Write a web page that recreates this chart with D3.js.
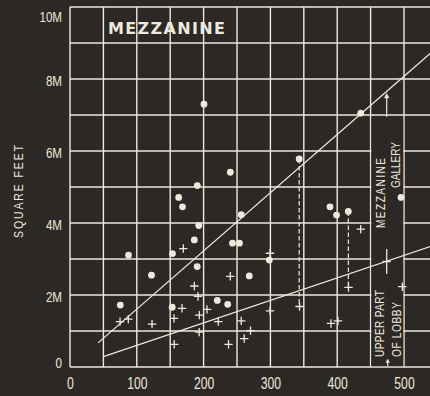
<!DOCTYPE html>
<html>
<head>
<meta charset="utf-8">
<script src="https://cdn.jsdelivr.net/npm/d3@7"></script>
<style>
  html, body { margin: 0; padding: 0; background: #2c2825; }
  svg { display: block; }
</style>
</head>
<body>
<svg id="chart" width="430" height="396"></svg>
<script>
// Mezzanine floor area (millions of sq ft) plotted against building size index.
const xTicks = [0, 100, 200, 300, 400, 500];
const yTicks = [0, 2, 4, 6, 8, 10];
const yTickLabels = ["0", "2M", "4M", "6M", "8M", "10M"];

// Mezzanine gallery buildings (dots): [x, millions of sq ft]
const galleryX = [200.6, 240.0, 190.6, 162.7, 168.4, 256.4, 192.8, 186.1, 87.6, 153.4,
                  243.3, 253.7, 298.4, 190.4, 122.0, 268.4, 75.3, 153.0, 220.5, 236.1,
                  343.1, 389.2, 399.0, 416.6, 495.5, 435.2];
const galleryY = [7.30, 5.41, 5.04, 4.71, 4.45, 4.23, 3.93, 3.53, 3.11, 3.15,
                  3.44, 3.44, 2.97, 2.79, 2.55, 2.53, 1.72, 1.66, 1.85, 1.74,
                  5.78, 4.45, 4.22, 4.32, 4.71, 7.05];

// Upper part of lobby (crosses)
const lobbyX = [74.9, 87.3, 122.8, 155.7, 156.0, 167.7, 169.6, 186.1, 191.6, 193.6,
                205.1, 193.4, 222.0, 256.3, 270.2, 260.8, 237.3, 240.0, 299.4, 299.4,
                343.6, 390.7, 401.2, 435.2, 416.9, 497.5];
const lobbyY = [1.26, 1.33, 1.19, 1.35, 0.63, 1.63, 3.29, 2.25, 1.96, 1.44,
                1.60, 0.97, 1.26, 1.28, 1.01, 0.79, 0.63, 2.52, 3.16, 1.56,
                1.68, 1.21, 1.28, 3.83, 2.21, 2.23];

// Same building, both measures: [x, gallery value, lobby value]
const pairedX = [343.1, 416.7];
const pairedTop = [5.78, 4.32];
const pairedBottom = [1.68, 2.21];

// Trend lines: [x, y] end points
const galleryTrend = [[42, 0.67], [540, 8.72]];
const lobbyTrend = [[50, 0.29], [540, 3.35]];

// Key marks inside the legend column
const keyX = 474.1;
const keyGalleryFrom = 6.95, keyGalleryTo = 7.60;
const keyLobbyY = 2.93;

const W = 430, H = 396;
const ink = "#eee9dc", bg = "#2c2825";
const svg = d3.select("#chart");

const x = d3.scaleLinear().domain([0, 500]).range([70, 404]);
const y = d3.scaleLinear().domain([0, 10]).range([367, 7]);
const xEdge = x.invert(W);

svg.append("rect").attr("width", W).attr("height", H).attr("fill", bg);

// Grid
const vGrid = svg.append("g").attr("stroke", ink).attr("stroke-width", 1.4);
vGrid.selectAll("line").data(d3.range(0, xEdge, 50)).join("line")
  .attr("x1", d => x(d)).attr("x2", d => x(d))
  .attr("y1", y(10)).attr("y2", y(0));
const hGrid = svg.append("g").attr("stroke", ink).attr("stroke-width", 1.4);
hGrid.selectAll("line").data(d3.range(0, 11, 1)).join("line")
  .attr("x1", x(0)).attr("x2", W)
  .attr("y1", d => y(d)).attr("y2", d => y(d));

// Legend column cut out of the grid between 450 and 500
svg.append("rect")
  .attr("x", x(450) + 0.8).attr("width", x(500) - x(450) - 1.6)
  .attr("y", y(6.93)).attr("height", y(0) - y(6.93) - 0.9)
  .attr("fill", bg);

// Trend lines
const line = d3.line().x(d => x(d[0])).y(d => y(d[1]));
svg.append("g").attr("fill", "none").attr("stroke", ink).attr("stroke-width", 1.3)
  .selectAll("path").data([galleryTrend, lobbyTrend]).join("path")
  .attr("d", line);

// Dashed links between paired values
svg.append("g").attr("stroke", ink).attr("stroke-width", 1.2).attr("stroke-dasharray", "4.5,2.5")
  .selectAll("line").data(pairedX).join("line")
  .attr("x1", d => x(d)).attr("x2", d => x(d))
  .attr("y1", (d, i) => y(pairedTop[i])).attr("y2", (d, i) => y(pairedBottom[i]));

// Crosses
const plus = "M-4.2,0H4.2M0,-4.2V4.2";
svg.append("g").attr("stroke", ink).attr("stroke-width", 1.3).attr("fill", "none")
  .selectAll("path").data(lobbyX).join("path")
  .attr("transform", (d, i) => `translate(${x(d)},${y(lobbyY[i])})`)
  .attr("d", plus);

// Dots
svg.append("g").attr("fill", ink)
  .selectAll("circle").data(galleryX).join("circle")
  .attr("cx", d => x(d)).attr("cy", (d, i) => y(galleryY[i])).attr("r", 3.4);

// Key marks: arrow up to the gallery trend, tall cross on the lobby trend, small arrow at the foot
const key = svg.append("g").attr("stroke", ink).attr("stroke-width", 1.2).attr("fill", ink);
key.append("line")
  .attr("x1", x(keyX)).attr("x2", x(keyX))
  .attr("y1", y(keyGalleryFrom)).attr("y2", y(keyGalleryTo) + 3);
key.append("path")
  .attr("d", `M${x(keyX)},${y(keyGalleryTo)}l-2.2,4.5h4.4z`).attr("stroke-width", 0.6);
key.append("path")
  .attr("d", `M${x(keyX)},${y(keyLobbyY) - 12.5}V${y(keyLobbyY) + 12.5}M${x(keyX) - 4},${y(keyLobbyY)}H${x(keyX) + 4}`)
  .attr("fill", "none").attr("stroke-width", 1.3);
key.append("line")
  .attr("x1", x(keyX) + 1).attr("x2", x(keyX) + 1)
  .attr("y1", y(0) - 1).attr("y2", y(0) - 6);
key.append("path")
  .attr("d", `M${x(keyX) + 1},${y(0) - 8}l-1.8,3.5h3.6z`).attr("stroke-width", 0.5);

// Axes labels
const tickFont = "'Liberation Sans', Arial, sans-serif";
const xAxis = svg.append("g").attr("transform", `translate(0,${y(0)})`)
  .call(d3.axisBottom(x).tickValues(xTicks).tickSize(0).tickFormat(d3.format("d")));
xAxis.select(".domain").remove();
xAxis.selectAll("text")
  .attr("x", 0).attr("y", 0).attr("dy", null)
  .attr("transform", "translate(0,22) scale(0.76,1)")
  .attr("fill", ink).attr("font-family", tickFont).attr("font-size", 16)
  .attr("text-anchor", "middle");

const yNudge = d => d === 0 ? -4.5 : (d === 10 ? 9 : 1);
const yAxis = svg.append("g").attr("transform", `translate(${x(0)},0)`)
  .call(d3.axisLeft(y).tickValues(yTicks).tickSize(0).tickFormat((d, i) => yTickLabels[i]));
yAxis.select(".domain").remove();
yAxis.selectAll("text")
  .attr("x", 0).attr("y", 0).attr("dy", "0.36em")
  .attr("transform", d => `translate(-8,${yNudge(d)}) scale(0.8,1)`)
  .attr("fill", ink).attr("font-family", tickFont).attr("font-size", 14.5)
  .attr("text-anchor", "end");

// Vertical text helper: baseline runs upward from (bx, by)
function vText(label, bx, by, len, size) {
  svg.append("g").attr("transform", `translate(${bx},${by}) rotate(-90) scale(0.78,1)`)
    .append("text")
    .attr("x", 0).attr("y", 0)
    .attr("font-family", tickFont).attr("font-size", size)
    .attr("fill", ink)
    .attr("textLength", len / 0.78).attr("lengthAdjust", "spacing")
    .text(label);
}

vText("SQUARE FEET", 23, 238, 93, 13.5);
vText("MEZZANINE", 385, 228, 70, 13);
vText("GALLERY", 400, 188, 46, 13);
vText("UPPER PART", 384, 357, 67, 13);
vText("OF LOBBY", 400.5, 357, 55, 13);

// Panel title
svg.append("text")
  .attr("x", 108).attr("y", 33.5)
  .attr("font-family", "'DejaVu Sans', sans-serif").attr("font-weight", "bold")
  .attr("font-size", 16).attr("fill", ink)
  .attr("textLength", 117).attr("lengthAdjust", "spacing")
  .text("MEZZANINE");
</script>
</body>
</html>
